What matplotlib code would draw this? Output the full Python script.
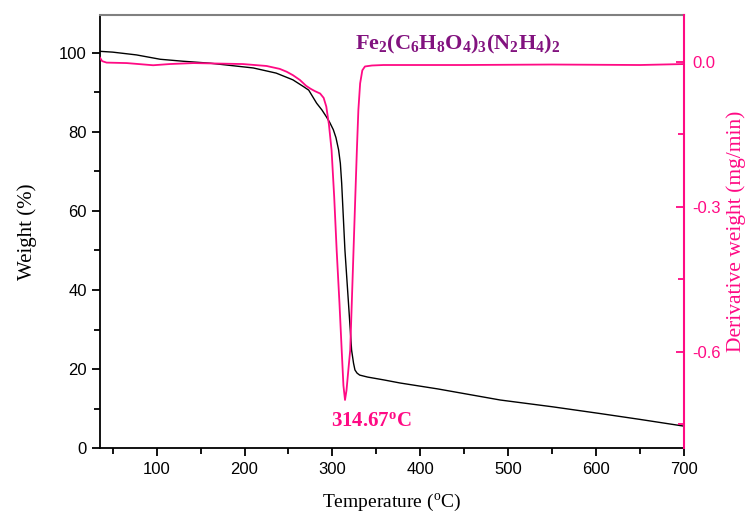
import matplotlib
matplotlib.use("Agg")
import matplotlib.pyplot as plt
from matplotlib.ticker import MultipleLocator

temp_w = [36, 50, 77, 104, 130, 161, 210, 236, 255, 267, 273, 282, 288, 293,
          297, 301, 304, 307, 309, 310.5, 314.2, 318, 321.8, 324, 325.6, 328,
          331, 340, 358, 377, 420, 491, 550, 604, 650, 700]
weight = [100.3, 100.1, 99.4, 98.3, 97.8, 97.3, 96.1, 94.8, 93.1, 91.4, 90.5,
          87.2, 85.5, 83.8, 82.3, 80.5, 78.5, 75.4, 72.0, 67.0, 50.1, 37.5,
          24.8, 21.5, 19.8, 19.0, 18.5, 18.0, 17.3, 16.5, 15.0, 12.2, 10.5,
          8.8, 7.3, 5.6]

temp_d = [35.5, 38, 43, 66, 96, 115, 142, 198, 225, 240, 248, 255, 263, 270,
          275, 280, 286, 290, 293, 296, 299, 302, 304.8, 308, 310.5, 312.5,
          314.3, 316, 318, 320.2, 322, 324, 326, 327.8, 329.5, 331.5, 334, 337,
          345, 358, 450, 550, 650, 700]
deriv = [0.008, 0.001, -0.002, -0.003, -0.0075, -0.005, -0.003, -0.005,
         -0.009, -0.015, -0.021, -0.028, -0.038, -0.050, -0.056, -0.061,
         -0.066, -0.075, -0.093, -0.130, -0.183, -0.280, -0.390, -0.500,
         -0.596, -0.670, -0.700, -0.680, -0.640, -0.597, -0.500, -0.390,
         -0.280, -0.183, -0.100, -0.045, -0.018, -0.010, -0.008, -0.007,
         -0.007, -0.006, -0.007, -0.005]

peak_label = r"314.67$\mathregular{^o}$C"
formula = r"$\mathregular{Fe_2(C_6H_8O_4)_3(N_2H_4)_2}$"

pink = "#FF0A84"
purple = "#82127F"
sans = "Liberation Sans"
serif = "Liberation Serif"

fig = plt.figure(figsize=(7.5, 5.15), dpi=100)
ax = fig.add_axes([0.1333, 0.1295, 0.7787, 0.8415])
ax2 = ax.twinx()

ax.plot(temp_w, weight, color="black", lw=1.0)
ax2.plot(temp_d, deriv, color=pink, lw=1.3)

ax.set_xlim(35.5, 700)
ax.set_ylim(0, 109.5)
ax2.set_ylim(-0.800, 0.0966)

# left / bottom axes
ax.xaxis.set_major_locator(MultipleLocator(100))
ax.xaxis.set_minor_locator(MultipleLocator(50))
ax.yaxis.set_major_locator(MultipleLocator(20))
ax.yaxis.set_minor_locator(MultipleLocator(10))
ax.tick_params(axis="both", which="major", direction="out", length=6, width=1.3,
               labelsize=12, top=False, right=False)
ax.tick_params(axis="both", which="minor", direction="out", length=4, width=1.3,
               top=False, right=False)
ax.set_yticks([0, 20, 40, 60, 80, 100])
for lab in ax.get_xticklabels() + ax.get_yticklabels():
    lab.set_fontfamily(sans)

ax.spines["left"].set_linewidth(1.3)
ax.spines["bottom"].set_linewidth(1.3)
ax.spines["top"].set_color("#808080")
ax.spines["top"].set_linewidth(1.5)
ax.spines["right"].set_visible(False)

# right axis (derivative)
for s in ["left", "top", "bottom"]:
    ax2.spines[s].set_visible(False)
ax2.spines["right"].set_color(pink)
ax2.spines["right"].set_linewidth(1.5)
ax2.yaxis.set_minor_locator(MultipleLocator(0.15))
ax2.set_yticks([-0.6, -0.3, 0.0])
ax2.set_yticklabels(["-0.6", "-0.3", "0.0"])
ax2.tick_params(axis="y", which="major", direction="in", length=6, width=1.3,
                colors=pink, labelsize=12, pad=6)
ax2.tick_params(axis="y", which="minor", direction="in", length=4, width=1.3,
                colors=pink)
for lab in ax2.get_yticklabels():
    lab.set_fontfamily(sans)

ax.set_xlabel(r"Temperature ($\mathregular{^o}$C)", fontsize=14,
              fontfamily=serif, labelpad=11)
ax.set_ylabel("Weight (%)", fontsize=15, fontfamily=serif, labelpad=16)
ax2.set_ylabel("Derivative weight (mg/min)", fontsize=15.5, fontfamily=serif,
               color=pink, labelpad=4)

ax.text(326, 102, formula, fontsize=16, fontfamily=serif, fontweight="bold",
        color=purple, ha="left", va="center")
ax.text(344, 7, peak_label, fontsize=15, fontfamily=serif, fontweight="bold",
        color=pink, ha="center", va="center")

fig.savefig("out.png", dpi=100)
